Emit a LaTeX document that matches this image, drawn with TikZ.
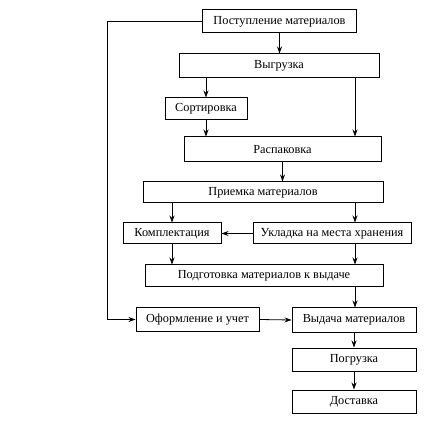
\documentclass[tikz,border=0pt]{standalone}
\usepackage{fontspec}
\setmainfont{Liberation Serif}
\usetikzlibrary{arrows.meta}
\begin{document}
\begin{tikzpicture}[x=1pt,y=1pt,
    blok/.style={draw,line width=1pt,inner sep=0pt,font=\fontsize{12.3}{14}\selectfont},
    strelka/.style={line width=0.8pt,-{Stealth[length=7pt,width=5pt]}}]
\useasboundingbox (0,0) rectangle (435,425);
\coordinate (lcol) at (107,0);
\coordinate (rcol) at (355,0);
\node[blok,minimum width=154pt,minimum height=23pt] (post) at (279.5,403.5) {Поступление материалов};
\node[blok,minimum width=200pt,minimum height=24pt] (vygr) at (279,359) {Выгрузка};
\node[blok,minimum width=82pt,minimum height=22pt] (sort) at (206,316) {Сортировка};
\node[blok,minimum width=197pt,minimum height=25pt] (rasp) at (282.5,275.5) {Распаковка};
\node[blok,minimum width=240pt,minimum height=21pt] (priem) at (263,232.5) {Приемка материалов};
\node[blok,minimum width=98pt,minimum height=21pt] (kompl) at (172,191.5) {Комплектация};
\node[blok,minimum width=158pt,minimum height=21pt] (uklad) at (332,191.5) {Укладка на места хранения};
\node[blok,minimum width=238pt,minimum height=22pt] (podg) at (264,149) {Подготовка материалов к выдаче};
\node[blok,minimum width=123pt,minimum height=23pt] (oform) at (197.5,105.5) {Оформление и учет};
\node[blok,minimum width=124pt,minimum height=24pt] (vyd) at (354,105) {Выдача материалов};
\node[blok,minimum width=124pt,minimum height=23pt] (pogr) at (354,65.5) {Погрузка};
\node[blok,minimum width=124pt,minimum height=23pt] (dost) at (354,23.5) {Доставка};
\draw[strelka] (post.south) -- (post.south |- vygr.north);
\draw[strelka] (sort.north |- vygr.south) -- (sort.north);
\draw[strelka] (sort.south) -- (sort.south |- rasp.north);
\draw[strelka] (rcol |- vygr.south) -- (rcol |- rasp.north);
\draw[strelka] (rasp.south) -- (rasp.south |- priem.north);
\draw[strelka] (kompl.north |- priem.south) -- (kompl.north);
\draw[strelka] (rcol |- priem.south) -- (rcol |- uklad.north);
\draw[strelka] (uklad.west) -- (kompl.east);
\draw[strelka] (kompl.south) -- (kompl.south |- podg.north);
\draw[strelka] (rcol |- uklad.south) -- (rcol |- podg.north);
\draw[strelka] (rcol |- podg.south) -- (rcol |- vyd.north);
\draw[strelka] (post.west) -- (lcol |- post.west) |- (oform.west);
\draw[strelka] (oform.east) -- (vyd.west);
\draw[strelka] (vyd.south) -- (pogr.north);
\draw[strelka] (pogr.south) -- (dost.north);
\end{tikzpicture}
\end{document}
